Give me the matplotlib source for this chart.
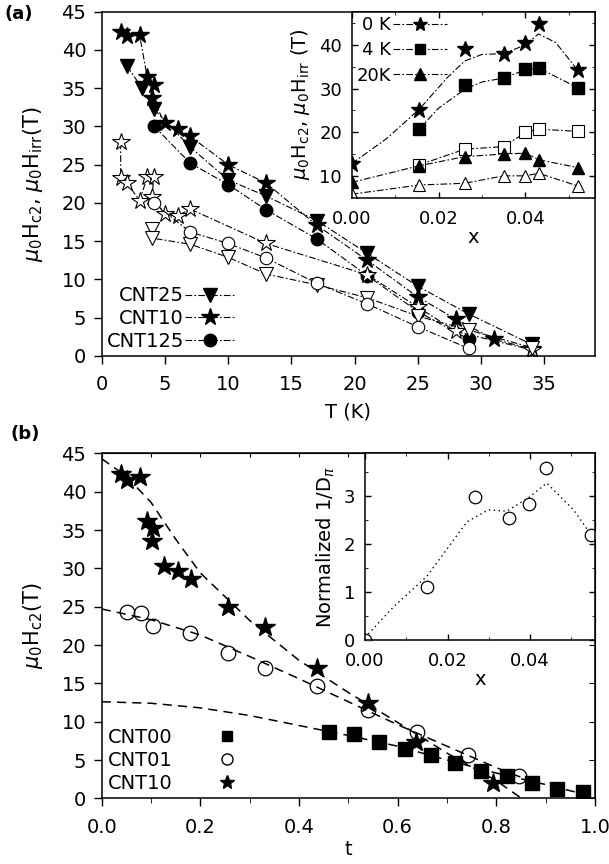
import matplotlib
matplotlib.use("Agg")
import matplotlib.pyplot as plt
from matplotlib.lines import Line2D
from matplotlib.ticker import MultipleLocator, FormatStrFormatter

plt.rcParams['font.family'] = ['DejaVu Sans']
plt.rcParams['mathtext.fontset'] = 'dejavusans'

# ---- panel (a): Hc2 (filled) and Hirr (open) vs T ----
cnt10_T = [1.5, 2, 3, 3.6, 4.1, 4.0, 5, 6, 7, 10, 13, 17, 21, 25, 28, 31, 34]
cnt10_H = [42.4, 41.8, 41.9, 36.4, 35.4, 33.7, 30.4, 29.6, 28.7, 25.0, 22.6, 17.1, 12.5, 7.7, 4.8, 2.2, 0.9]
cnt25_T = [2, 3.2, 4.1, 7, 10, 13, 17, 21, 25, 29, 34]
cnt25_H = [37.9, 35.0, 32.3, 27.3, 23.0, 20.9, 17.7, 13.4, 9.1, 5.5, 1.5]
cnt125_T = [4.1, 7, 10, 13, 17, 21, 25, 29]
cnt125_H = [30.1, 25.2, 22.4, 19.1, 15.3, 10.5, 5.8, 2.2]

cnt10_irr_T = [1.5, 1.5, 2, 3, 3.6, 4.1, 4.0, 5, 6, 7, 13, 21, 25, 28, 34]
cnt10_irr_H = [27.9, 23.2, 22.6, 20.3, 23.4, 23.4, 20.8, 18.5, 18.3, 19.2, 14.7, 10.6, 6.4, 3.2, 0.8]
cnt25_irr_T = [4.0, 4.0, 7, 10, 13, 17, 21, 25, 29, 34]
cnt25_irr_H = [16.6, 15.4, 14.6, 12.9, 10.7, 9.3, 7.6, 5.2, 3.4, 1.1]
cnt125_irr_T = [4.1, 7, 10, 13, 17, 21, 25, 29]
cnt125_irr_H = [20.0, 16.2, 14.7, 12.8, 9.5, 6.8, 3.8, 1.0]

# ---- inset (a): H vs x ----
x_in = [0.0, 0.0155, 0.026, 0.035, 0.040, 0.043, 0.052]
h_0K = [12.8, 25.0, 39.0, 37.8, 40.5, 44.7, 34.2]
x_4K = [0.0155, 0.026, 0.035, 0.040, 0.043, 0.052]
h_4K = [20.7, 30.7, 32.4, 34.5, 34.75, 30.2]
h_4K_irr = [12.5, 16.1, 16.7, 19.95, 20.7, 20.2]
h_20K = [8.5, 12.3, 14.4, 15.0, 15.2, 13.7, 11.9]
h_20K_irr = [5.8, 7.9, 8.3, 10.0, 10.0, 10.6, 7.7]
# guide curves
g0_x = [0.0, 0.008, 0.0155, 0.022, 0.026, 0.030, 0.035, 0.040, 0.043, 0.047, 0.052]
g0_y = [12.8, 18.5, 25.2, 32.5, 36.3, 37.8, 38.0, 40.0, 42.5, 40.5, 34.2]
g4_x = [0.0155, 0.020, 0.026, 0.030, 0.035, 0.040, 0.043, 0.052]
g4_y = [20.7, 25.5, 29.8, 31.5, 32.4, 34.3, 34.7, 30.2]

# ---- panel (b): Hc2 vs reduced t ----
t00 = [0.461, 0.511, 0.562, 0.615, 0.668, 0.716, 0.768, 0.821, 0.872, 0.922, 0.975]
h00 = [8.6, 8.4, 7.4, 6.4, 5.65, 4.55, 3.6, 2.9, 1.95, 1.2, 0.8]
t01 = [0.051, 0.080, 0.103, 0.180, 0.257, 0.332, 0.436, 0.540, 0.640, 0.743, 0.846]
h01 = [24.3, 24.2, 22.5, 21.6, 18.9, 17.0, 14.6, 11.5, 8.6, 5.65, 2.9]
t10 = [0.0385, 0.051, 0.078, 0.091, 0.105, 0.101, 0.127, 0.155, 0.181, 0.257, 0.332, 0.436, 0.540, 0.638, 0.794]
h10 = [42.3, 41.5, 41.9, 36.2, 35.3, 33.6, 30.3, 29.6, 28.6, 25.0, 22.4, 17.0, 12.4, 7.4, 2.0]
fit10_t = [0.0, 0.05, 0.1, 0.15, 0.2, 0.3, 0.4, 0.5, 0.6, 0.7, 0.8, 0.851]
fit10_h = [44.3, 42.0, 38.6, 33.8, 29.4, 23.2, 18.0, 13.8, 9.9, 5.9, 2.3, 0.0]
fit01_t = [0.0, 0.1, 0.2, 0.3, 0.4, 0.5, 0.6, 0.7, 0.8, 0.86]
fit01_h = [24.7, 23.3, 21.3, 18.5, 15.6, 12.6, 9.6, 6.8, 4.0, 2.5]
fit00_t = [0.0, 0.1, 0.2, 0.3, 0.4, 0.5, 0.6, 0.7, 0.8, 0.9, 0.98]
fit00_h = [12.6, 12.4, 11.8, 10.8, 9.5, 8.2, 6.8, 5.0, 3.3, 1.8, 0.5]

# ---- inset (b): normalized 1/D_pi vs x ----
xd = [0.0, 0.015, 0.0267, 0.0349, 0.0397, 0.0438, 0.0547]
dd = [0.0, 1.1, 2.98, 2.55, 2.84, 3.6, 2.2]
gd_x = [0.0, 0.007, 0.015, 0.0247, 0.0299, 0.0343, 0.0396, 0.044, 0.0505, 0.0547]
gd_y = [0.05, 0.7, 1.33, 2.47, 2.72, 2.69, 2.97, 3.28, 2.72, 2.2]

DD = (0, (6, 2, 1.5, 2))
fig = plt.figure(figsize=(6.09, 8.64), dpi=100)


def style(ax, size=14):
    ax.tick_params(labelsize=size, direction='out', length=6, width=1, pad=5)
    for s in ax.spines.values():
        s.set_linewidth(1.1)


def inset_ticks(ax):
    ax.tick_params(which='both', direction='in', top=True, right=True)
    ax.tick_params(which='major', length=4)
    ax.tick_params(which='minor', length=2.5)
    ax.tick_params(axis='x', pad=9)
    ax.tick_params(axis='y', pad=7)


ylab = r'$\mu_0\mathrm{H}_{\mathrm{c2}}$, $\mu_0\mathrm{H}_{\mathrm{irr}}$'

# ===== panel (a) =====
ax = fig.add_axes([0.167, 0.588, 0.810, 0.3985])
kw = dict(color='k', lw=0.8, ls=DD)
ax.plot(cnt25_T, cnt25_H, marker='v', ms=10, mfc='k', mec='k', **kw)
ax.plot(cnt10_T, cnt10_H, marker='*', ms=13, mfc='k', mec='k', **kw)
ax.plot(cnt125_T, cnt125_H, marker='o', ms=9, mfc='k', mec='k', **kw)
ax.plot(cnt10_irr_T, cnt10_irr_H, marker='*', ms=13, mfc='w', mec='k', mew=0.8, **kw)
ax.plot(cnt25_irr_T, cnt25_irr_H, marker='v', ms=10, mfc='w', mec='k', mew=0.8, **kw)
ax.plot(cnt125_irr_T, cnt125_irr_H, marker='o', ms=9, mfc='w', mec='k', mew=0.8, **kw)
ax.set_xlim(0, 39)
ax.set_ylim(0, 45)
ax.xaxis.set_major_locator(MultipleLocator(5))
ax.yaxis.set_major_locator(MultipleLocator(5))
style(ax)
ax.tick_params(axis='x', pad=8)
ax.set_xlabel('T (K)', fontsize=14, labelpad=6)
ax.set_ylabel(ylab + '(T)', fontsize=15, labelpad=12)
hl25 = Line2D([], [], marker='v', ms=10, mfc='k', mec='k', **kw)
hl10 = Line2D([], [], marker='*', ms=13, mfc='k', mec='k', **kw)
hl125 = Line2D([], [], marker='o', ms=9, mfc='k', mec='k', **kw)
ax.legend([hl25, hl10, hl125], ['CNT25', 'CNT10', 'CNT125'], loc='lower left',
          markerfirst=False, frameon=False, fontsize=14, handlelength=2.6,
          handletextpad=0.05, labelspacing=0.2, borderaxespad=0.0, borderpad=0.25,
          numpoints=1)
fig.text(0.008, 0.984, '(a)', fontsize=13, fontweight='bold', va='center')

# inset (a)
axi = fig.add_axes([0.5775, 0.7712, 0.3995, 0.2153])
axi.plot(g0_x, g0_y, **kw)
axi.plot(x_in, h_0K, ls='none', marker='*', ms=12, mfc='k', mec='k')
axi.plot(g4_x, g4_y, **kw)
axi.plot(x_4K, h_4K, ls='none', marker='s', ms=8, mfc='k', mec='k')
axi.plot(x_4K, h_4K_irr, marker='s', ms=8, mfc='w', mec='k', mew=0.8, **kw)
axi.plot(x_in, h_20K, marker='^', ms=9, mfc='k', mec='k', **kw)
axi.plot(x_in, h_20K_irr, marker='^', ms=9, mfc='w', mec='k', mew=0.8, **kw)
axi.set_xlim(0, 0.056)
axi.set_ylim(5, 47.6)
axi.xaxis.set_major_locator(MultipleLocator(0.02))
axi.xaxis.set_minor_locator(MultipleLocator(0.01))
axi.yaxis.set_major_locator(MultipleLocator(10))
axi.yaxis.set_minor_locator(MultipleLocator(5))
axi.xaxis.set_major_formatter(FormatStrFormatter('%.2f'))
style(axi, 13)
inset_ticks(axi)
axi.set_xlabel('x', fontsize=14, labelpad=0)
axi.set_ylabel(ylab + ' (T)', fontsize=14, labelpad=5)
h0 = Line2D([], [], marker='*', ms=10, mfc='k', mec='k', **kw)
h4 = Line2D([], [], marker='s', ms=7, mfc='k', mec='k', **kw)
h20 = Line2D([], [], marker='^', ms=8, mfc='k', mec='k', **kw)
axi.legend([h0, h4, h20], ['0 K', '4 K', '20K'], loc='upper left', markerfirst=False,
           frameon=False, fontsize=13, handlelength=3.0, handletextpad=0.1,
           labelspacing=0.4, borderaxespad=0.1, borderpad=0.15, numpoints=1)

# ===== panel (b) =====
bx = fig.add_axes([0.167, 0.076, 0.810, 0.3993])
dk = dict(color='k', lw=1.1, ls=(0, (6, 4)))
bx.plot(fit10_t, fit10_h, **dk)
bx.plot(fit01_t, fit01_h, **dk)
bx.plot(fit00_t, fit00_h, **dk)
bx.plot(t00, h00, ls='none', marker='s', ms=9.5, mfc='k', mec='k')
bx.plot(t01, h01, ls='none', marker='o', ms=10.5, mfc='none', mec='k', mew=0.9)
bx.plot(t10, h10, ls='none', marker='*', ms=15, mfc='k', mec='k')
bx.set_xlim(0, 1.0)
bx.set_ylim(0, 45)
bx.xaxis.set_major_locator(MultipleLocator(0.2))
bx.xaxis.set_minor_locator(MultipleLocator(0.1))
bx.yaxis.set_major_locator(MultipleLocator(5))
bx.xaxis.set_major_formatter(FormatStrFormatter('%.1f'))
style(bx)
bx.tick_params(axis='x', pad=8)
bx.tick_params(which='minor', direction='out', length=3.5)
ry = bx.secondary_yaxis('right')
ry.yaxis.set_major_locator(MultipleLocator(5))
ry.tick_params(direction='in', length=4, labelright=False)
tx = bx.secondary_xaxis('top')
tx.xaxis.set_major_locator(MultipleLocator(0.1))
tx.tick_params(direction='in', length=3, labeltop=False)
bx.set_xlabel('t', fontsize=14, labelpad=2)
bx.set_ylabel(r'$\mu_0\mathrm{H}_{\mathrm{c2}}$(T)', fontsize=15, labelpad=12)
m00 = Line2D([], [], ls='none', marker='s', ms=7, mfc='k', mec='k')
m01 = Line2D([], [], ls='none', marker='o', ms=8, mfc='none', mec='k')
m10 = Line2D([], [], ls='none', marker='*', ms=10, mfc='k', mec='k')
bx.legend([m00, m01, m10], ['CNT00', 'CNT01', 'CNT10'], loc='lower left', markerfirst=False,
          frameon=False, fontsize=14, handlelength=1, handletextpad=2.3,
          labelspacing=0.2, borderaxespad=0.0, borderpad=0.3, numpoints=1)
fig.text(0.018, 0.498, '(b)', fontsize=13, fontweight='bold', va='center')

# inset (b)
bi = fig.add_axes([0.5993, 0.2593, 0.3777, 0.2160])
bi.plot(gd_x, gd_y, color='k', lw=1.0, ls=(0, (1, 2.5)))
bi.plot(xd, dd, ls='none', marker='o', ms=9, mfc='w', mec='k', mew=0.9)
bi.set_xlim(0, 0.0557)
bi.set_ylim(0, 3.9)
bi.xaxis.set_major_locator(MultipleLocator(0.02))
bi.xaxis.set_minor_locator(MultipleLocator(0.01))
bi.yaxis.set_major_locator(MultipleLocator(1))
bi.yaxis.set_minor_locator(MultipleLocator(0.5))
bi.xaxis.set_major_formatter(FormatStrFormatter('%.2f'))
style(bi, 13)
inset_ticks(bi)
bi.set_xlabel('x', fontsize=14, labelpad=0)
bi.set_ylabel(r'Normalized 1/D$_\pi$', fontsize=14, labelpad=5)

fig.savefig('out.png', dpi=100)
